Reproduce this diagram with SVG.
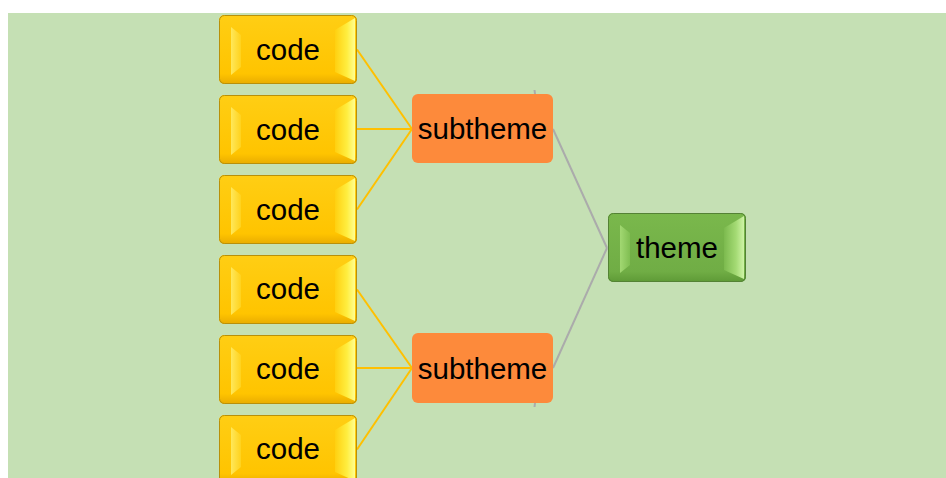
<svg xmlns="http://www.w3.org/2000/svg" width="946" height="478" viewBox="0 0 946 478">
  <style>
    .lbl { font-family: "Liberation Sans", Arial, sans-serif; font-size: 29.5px; fill: #000; text-anchor: middle; }
    .gold-link { stroke: #FFC000; stroke-width: 2; fill: none; }
    .grey-link { stroke: #ABABAB; stroke-width: 2; fill: none; }
  </style>
  <defs>
    <clipPath id="bevelClip"><rect x="0" y="0" width="138" height="69" rx="5"/></clipPath>
    <linearGradient id="goldFace" x1="0" x2="0" y1="0" y2="1">
      <stop offset="0" stop-color="#FFCE14"/><stop offset="0.85" stop-color="#FFC400"/><stop offset="1" stop-color="#E9AC00"/>
    </linearGradient>
    <linearGradient id="goldLeft" x1="0" x2="1" y1="0" y2="0">
      <stop offset="0" stop-color="#FFE85A"/><stop offset="1" stop-color="#FFD21C"/>
    </linearGradient>
    <linearGradient id="goldRight" x1="0" x2="1" y1="0" y2="0">
      <stop offset="0" stop-color="#FFD010"/><stop offset="0.6" stop-color="#FFEE40"/><stop offset="1" stop-color="#FFFF90"/>
    </linearGradient>
    <linearGradient id="greenFace" x1="0" x2="0" y1="0" y2="1">
      <stop offset="0" stop-color="#7AB84C"/><stop offset="0.85" stop-color="#70AD45"/><stop offset="1" stop-color="#5E9A36"/>
    </linearGradient>
    <linearGradient id="greenLeft" x1="0" x2="1" y1="0" y2="0">
      <stop offset="0" stop-color="#A2D872"/><stop offset="1" stop-color="#80BE52"/>
    </linearGradient>
    <linearGradient id="greenRight" x1="0" x2="1" y1="0" y2="0">
      <stop offset="0" stop-color="#7CBA4E"/><stop offset="0.6" stop-color="#A4DA74"/><stop offset="1" stop-color="#CFF4A6"/>
    </linearGradient>
    <!-- bevelled gold tile -->
    <g id="goldTile">
      <g clip-path="url(#bevelClip)">
        <rect x="0" y="0" width="138" height="69" fill="url(#goldFace)"/>
        <polygon points="12,12 22,20 22,52 12,60" fill="url(#goldLeft)"/>
        <polygon points="116,15 136,3 136,66 116,57" fill="url(#goldRight)"/>
      </g>
      <rect x="0.5" y="0.5" width="137" height="68" rx="5" fill="none" stroke="#B8900A" stroke-width="1"/>
    </g>
    <!-- bevelled green tile -->
    <g id="greenTile">
      <g clip-path="url(#bevelClip)">
        <rect x="0" y="0" width="138" height="69" fill="url(#greenFace)"/>
        <polygon points="12,12 22,20 22,52 12,60" fill="url(#greenLeft)"/>
        <polygon points="116,15 136,3 136,66 116,57" fill="url(#greenRight)"/>
      </g>
      <rect x="0.5" y="0.5" width="137" height="68" rx="5" fill="none" stroke="#548235" stroke-width="1"/>
    </g>
  </defs>

  <rect x="0" y="0" width="946" height="478" fill="#FFFFFF"/>
  <rect x="8" y="13" width="938" height="465" fill="#C5E0B4"/>

  <g id="connectors">
    <path class="gold-link" d="M357,49.5 L412,129"/>
    <path class="gold-link" d="M357,129 L412,129"/>
    <path class="gold-link" d="M357,209.5 L412,129"/>
    <path class="gold-link" d="M357,289.5 L412,368"/>
    <path class="gold-link" d="M357,368 L412,368"/>
    <path class="gold-link" d="M357,449.5 L412,368"/>
    <path class="grey-link" d="M553,129 L607,248"/>
    <path class="grey-link" d="M553,368 L607,248"/>
    <path class="grey-link" d="M534.5,90 L535,94"/>
    <path class="grey-link" d="M535,403 L534.5,407"/>
  </g>

  <g id="code1"><use href="#goldTile" x="219" y="15"/><text class="lbl" x="288" y="59.5">code</text></g>
  <g id="code2"><use href="#goldTile" x="219" y="95"/><text class="lbl" x="288" y="139.5">code</text></g>
  <g id="code3"><use href="#goldTile" x="219" y="175"/><text class="lbl" x="288" y="219.5">code</text></g>
  <g id="code4"><use href="#goldTile" x="219" y="255"/><text class="lbl" x="288" y="299">code</text></g>
  <g id="code5"><use href="#goldTile" x="219" y="335"/><text class="lbl" x="288" y="379">code</text></g>
  <g id="code6"><use href="#goldTile" x="219" y="415"/><text class="lbl" x="288" y="459">code</text></g>

  <g id="subtheme1">
    <rect x="412" y="94" width="141" height="69" rx="6" fill="#FD8A3B"/>
    <text class="lbl" x="482.5" y="139">subtheme</text>
  </g>
  <g id="subtheme2">
    <rect x="412" y="333" width="141" height="70" rx="6" fill="#FD8A3B"/>
    <text class="lbl" x="482.5" y="378.5">subtheme</text>
  </g>

  <g id="theme">
    <use href="#greenTile" x="608" y="213"/>
    <text class="lbl" x="677" y="258">theme</text>
  </g>
</svg>
